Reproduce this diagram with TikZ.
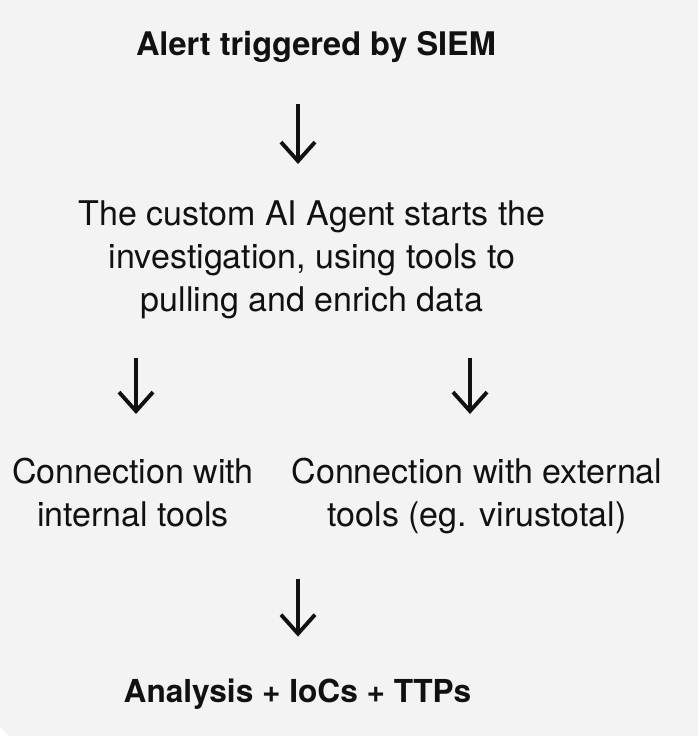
\documentclass[tikz,border=0pt]{standalone}
\usepackage{fontspec}
\setmainfont{TeX Gyre Heros}
\usepackage{xcolor}
\usetikzlibrary{arrows.meta,positioning,calc}
\definecolor{cardbg}{RGB}{243,243,243}
\definecolor{ink}{RGB}{17,17,17}
\tikzset{
  title/.style={inner sep=0pt, text=ink, font=\bfseries\fontsize{18.5}{22}\selectfont},
  body/.style={inner sep=0pt, text=ink, align=center,
               font=\fontsize{19.35}{24.5}\selectfont},
  down/.style={-{Straight Barb[length=3.8mm,width=6.8mm]}, line width=2.2pt, draw=ink}
}
\begin{document}
\begin{tikzpicture}
  \useasboundingbox (0,0) rectangle (13.96,-14.72);
  \clip (0,0) rectangle (13.96,-14.72);
  \fill[white] (0,0) rectangle (13.96,-14.72);
  \fill[cardbg, rounded corners=1.2cm] (-0.25,0.5) rectangle (14.5,-15.0);
  % text blocks
  \node[title, anchor=base] (alert) at (6.32,-1.10) {Alert triggered by SIEM};
  \node[body, anchor=north] (agent) at (6.24,-4.01)
    {The custom AI Agent starts the\\investigation, using tools to\\pulling and enrich data};
  \node[body, anchor=north] (int) at (2.66,-9.15) {Connection with\\internal tools};
  \node[body, anchor=north] (ext) at (9.54,-9.15) {Connection with external\\tools (eg. virustotal)};
  \node[title, anchor=base, font=\bfseries\fontsize{18}{22}\selectfont] (res) at (5.95,-14.04)
    {Analysis + IoCs + TTPs};
  % arrow columns
  \coordinate (d1) at (5.96,0);
  \coordinate (d2) at (2.72,0);
  \coordinate (d3) at (9.40,0);
  \draw[down, shorten <=0.84cm, shorten >=0.73cm] (alert.south -| d1) -- (agent.north -| d1);
  \draw[down, shorten <=0.76cm, shorten >=0.87cm] (agent.south -| d2) -- (int.north -| d2);
  \draw[down, shorten <=0.76cm, shorten >=0.87cm] (agent.south -| d3) -- (ext.north -| d3);
  \draw[down, shorten <=0.90cm, shorten >=0.83cm] (ext.south -| d1) -- (res.north -| d1);
\end{tikzpicture}
\end{document}
